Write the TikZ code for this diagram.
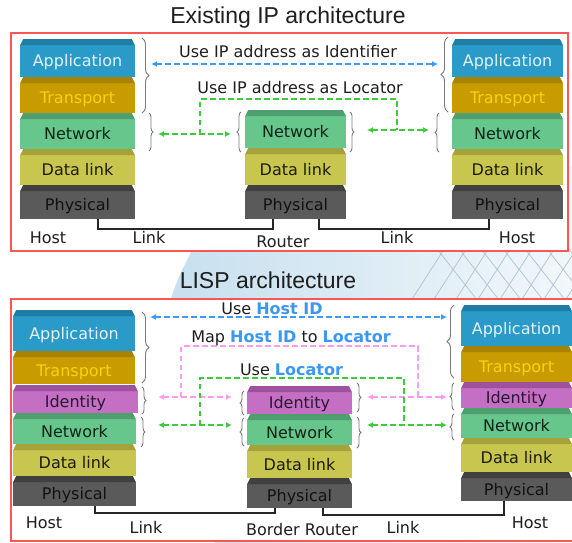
\documentclass[tikz,border=0pt]{standalone}
\usepackage{fontspec}
\setmainfont{DejaVu Sans}
\newfontfamily\titlefont{Liberation Sans}
\usetikzlibrary{arrows.meta,decorations.pathreplacing}

% layer colours: fill, top bevel, text
\definecolor{appC}{HTML}{2A9AC8}\definecolor{appD}{HTML}{1F7CA4}\definecolor{appT}{HTML}{E4F2F8}
\definecolor{trnC}{HTML}{C89B00}\definecolor{trnD}{HTML}{A88300}\definecolor{trnT}{HTML}{F8D400}
\definecolor{idnC}{HTML}{C46EC4}\definecolor{idnD}{HTML}{9E529E}\definecolor{idnT}{HTML}{2A1830}
\definecolor{netC}{HTML}{66C68C}\definecolor{netD}{HTML}{4E9E70}\definecolor{netT}{HTML}{102418}
\definecolor{dlkC}{HTML}{C9C650}\definecolor{dlkD}{HTML}{A5A23C}\definecolor{dlkT}{HTML}{1C1C08}
\definecolor{phyC}{HTML}{5A5A5A}\definecolor{phyD}{HTML}{404040}\definecolor{phyT}{HTML}{121212}
% lines and labels
\definecolor{frameC}{HTML}{FF5555}
\definecolor{braceC}{HTML}{7A7A7A}
\definecolor{lnBlue}{HTML}{3C9BFA}
\definecolor{lnGreen}{HTML}{3CCB3C}
\definecolor{lnPink}{HTML}{FF9CF2}
\definecolor{hidC}{HTML}{3A98F2}
\definecolor{txtC}{HTML}{1E1E1E}
\definecolor{globeC}{HTML}{C6DFEE}
\definecolor{gridC}{HTML}{B4C6D4}

\tikzset{
  layerbox/.style={inner sep=0pt, outer sep=0pt, font=\fontsize{16}{18}\selectfont,
    text height=21pt, text depth=3.5pt},
  bevel/.style={path picture={
    \fill[#1] ([yshift=-6pt]path picture bounding box.north west)
      -- ([xshift=3pt]path picture bounding box.north west)
      -- ([xshift=-3pt]path picture bounding box.north east)
      -- ([yshift=-6pt]path picture bounding box.north east) -- cycle;
    \fill[white] (path picture bounding box.north west)
      -- ([xshift=3pt]path picture bounding box.north west)
      -- ([yshift=-6pt]path picture bounding box.north west) -- cycle;
    \fill[white] (path picture bounding box.north east)
      -- ([xshift=-3pt]path picture bounding box.north east)
      -- ([yshift=-6pt]path picture bounding box.north east) -- cycle;}},
  applayer/.style={layerbox, fill=appC, bevel=appD, text=appT},
  trnlayer/.style={layerbox, fill=trnC, bevel=trnD, text=trnT},
  idnlayer/.style={layerbox, fill=idnC, bevel=idnD, text=idnT},
  netlayer/.style={layerbox, fill=netC, bevel=netD, text=netT},
  dlklayer/.style={layerbox, fill=dlkC, bevel=dlkD, text=dlkT},
  phylayer/.style={layerbox, fill=phyC, bevel=phyD, text=phyT},
  lbl/.style={inner sep=0pt, anchor=base, text=txtC, font=\fontsize{16}{18}\selectfont},
  ttl/.style={inner sep=0pt, anchor=base, text=txtC, font=\titlefont\fontsize{23}{26}\selectfont},
  frm/.style={draw=frameC, line width=1.1pt, fill=white},
  brc/.style={decorate, decoration={brace, amplitude=#1}, draw=braceC, line width=0.9pt},
  brc/.default=5pt,
  dsh/.style={dash pattern=on 5.5pt off 3.5pt, line width=1.7pt},
  wire/.style={draw=black!85, line width=1.4pt},
}

% one protocol layer: name, style, left, right, top, bottom, text
\newcommand\stackbox[7]{%
  \node[#2, minimum width={(#4)-(#3)}, minimum height={(#6)-(#5)}]
    (#1) at ({((#3)+(#4))/2},{((#5)+(#6))/2}) {#7};}

\begin{document}
\begin{tikzpicture}[x=1pt, y=-1pt, >={Latex[length=6pt,width=6pt]}]
\useasboundingbox (0,0) rectangle (572,542);

% faint globe behind the two panels
\begin{scope}
  \clip (420,380) circle (262pt);
  \shade[left color=globeC, right color=white] (158,110) rectangle (700,650);
  \foreach \k in {0,...,8} {
    \draw[gridC, line width=0.8pt] ({430+\k*22},240) -- ++(55,70);
    \draw[gridC, line width=0.8pt] ({450+\k*22},240) -- ++(-45,70);
  }
\end{scope}

% ---------------- existing IP architecture ----------------
\node[ttl] (title1) at (288,23) {Existing IP architecture};
\draw[frm] (11,33) rectangle (568,251);

\stackbox{hA}{applayer}{20}{135}{39}{77}{Application}
\stackbox{hT}{trnlayer}{20}{135}{77}{113}{Transport}
\stackbox{hN}{netlayer}{20}{135}{113}{149}{Network}
\stackbox{hD}{dlklayer}{20}{135}{149}{185}{Data link}
\stackbox{hP}{phylayer}{20}{135}{185}{219}{Physical}

\stackbox{rN}{netlayer}{245}{346}{110}{148}{Network}
\stackbox{rD}{dlklayer}{245}{346}{148}{185}{Data link}
\stackbox{rP}{phylayer}{245}{346}{185}{219}{Physical}

\stackbox{gA}{applayer}{452}{563}{39}{77}{Application}
\stackbox{gT}{trnlayer}{452}{563}{77}{113}{Transport}
\stackbox{gN}{netlayer}{452}{563}{113}{149}{Network}
\stackbox{gD}{dlklayer}{452}{563}{149}{185}{Data link}
\stackbox{gP}{phylayer}{452}{563}{185}{219}{Physical}

% links
\draw[wire] ([xshift=20.5pt]hP.south) -- ++(0,10) -| ([xshift=-22.5pt]rP.south);
\draw[wire] ([xshift=23.5pt]rP.south) -- ++(0,10) -| ([xshift=-18.5pt]gP.south);

% braces
\draw[brc=7pt] (142,38) -- (142,113);
\draw[brc=4pt] (149,113) -- (149,151);
\draw[brc=4pt] (241,152) -- (241,112);
\draw[brc=4pt] (350,112) -- (350,152);
\draw[brc=7pt] (448,112) -- (448,37);
\draw[brc=4pt] (439,152) -- (439,113);

% identifier and locator paths
\coordinate (b1l) at (151,64);  \coordinate (b1r) at (438,64);
\draw[dsh, draw=lnBlue, <->] (b1l) -- (b1r);
\node[lbl] (useid) at (288,57) {Use IP address as Identifier};

\coordinate (g1a) at (158,134); \coordinate (g1b) at (231,134);
\coordinate (g1c) at (367,130); \coordinate (g1d) at (429,130);
\draw[dsh, draw=lnGreen, <->] (g1a) -- (g1b);
\draw[dsh, draw=lnGreen, <->] (g1c) -- (g1d);
\draw[dsh, draw=lnGreen] (200,134) -- (200,99) -- (397,99) -- (397,130);
\node[lbl] (useloc) at (300,93) {Use IP address as Locator};

\node[lbl] (hostA) at (48,243) {Host};
\node[lbl] (linkA) at (149,243) {Link};
\node[lbl] (router) at (283,247) {Router};
\node[lbl] (linkB) at (397,243) {Link};
\node[lbl] (hostB) at (517,243) {Host};

% ---------------- LISP architecture ----------------
\node[ttl] (title2) at (268,288) {LISP architecture};
\draw[frm] (11,299) rectangle (574,541);

\stackbox{lA}{applayer}{13}{135}{310}{351}{Application}
\stackbox{lT}{trnlayer}{13}{135}{351}{384}{Transport}
\stackbox{lI}{idnlayer}{13}{138}{385}{413}{Identity}
\stackbox{lN}{netlayer}{13}{136}{413}{444}{Network}
\stackbox{lD}{dlklayer}{13}{136}{444}{476}{Data link}
\stackbox{lP}{phylayer}{13}{136}{476}{506}{Physical}

\stackbox{bI}{idnlayer}{247}{352}{386}{414}{Identity}
\stackbox{bN}{netlayer}{247}{352}{414}{445}{Network}
\stackbox{bD}{dlklayer}{247}{352}{445}{478}{Data link}
\stackbox{bP}{phylayer}{247}{352}{478}{508}{Physical}

\stackbox{mA}{applayer}{461}{572}{305}{346}{Application}
\stackbox{mT}{trnlayer}{461}{572}{346}{382}{Transport}
\stackbox{mI}{idnlayer}{461}{572}{382}{408}{Identity}
\stackbox{mN}{netlayer}{461}{572}{408}{438}{Network}
\stackbox{mD}{dlklayer}{461}{572}{438}{472}{Data link}
\stackbox{mP}{phylayer}{461}{572}{472}{501}{Physical}

% links
\draw[wire] ([xshift=20.5pt]lP.south) -- ++(0,7) -| ([xshift=-24.5pt]bP.south);
\draw[wire] ([xshift=23.5pt]bP.south) -- ++(0,7) -| ([xshift=-12.5pt]mP.south);

% braces
\draw[brc=7pt] (142,312) -- (142,383);
\draw[brc=4pt] (142,387) -- (142,414);
\draw[brc=4pt] (141,417) -- (141,447);
\draw[brc=4pt] (244,415) -- (244,391);
\draw[brc=4pt] (244,446) -- (244,418);
\draw[brc=4pt] (357,383) -- (357,412);
\draw[brc=4pt] (357,417) -- (357,448);
\draw[brc=7pt] (454,378) -- (454,305);
\draw[brc=4pt] (454,410) -- (454,383);
\draw[brc=4pt] (454,440) -- (454,414);

% host ID and locator paths
\coordinate (b2l) at (150,317); \coordinate (b2r) at (447,317);
\draw[dsh, draw=lnBlue, <->] (b2l) -- (b2r);
\node[lbl] (usehid) at (272,314) {Use \textbf{\color{hidC}Host ID}};

\coordinate (p2a) at (158,397); \coordinate (p2b) at (232,397);
\coordinate (p2c) at (367,397); \coordinate (p2d) at (447,397);
\draw[dsh, draw=lnPink, <->] (p2a) -- (p2b);
\draw[dsh, draw=lnPink, <->] (p2c) -- (p2d);
\draw[dsh, draw=lnPink] (181,397) -- (181,346) -- (418,346) -- (418,397);
\node[lbl] (mapid) at (291,342) {Map \textbf{\color{hidC}Host ID} to \textbf{\color{hidC}Locator}};

\coordinate (g2a) at (158,425); \coordinate (g2b) at (232,425);
\coordinate (g2c) at (367,425); \coordinate (g2d) at (447,425);
\draw[dsh, draw=lnGreen, <->] (g2a) -- (g2b);
\draw[dsh, draw=lnGreen, <->] (g2c) -- (g2d);
\draw[dsh, draw=lnGreen] (200,425) -- (200,378) -- (404,378) -- (404,425);
\node[lbl] (useloc2) at (291.5,375) {Use \textbf{\color{hidC}Locator}};

\node[lbl] (hostC) at (44,528) {Host};
\node[lbl] (linkC) at (146,533) {Link};
\node[lbl] (brouter) at (302,535) {Border Router};
\node[lbl] (linkD) at (403,533) {Link};
\node[lbl] (hostD) at (530,528) {Host};
\end{tikzpicture}
\end{document}
